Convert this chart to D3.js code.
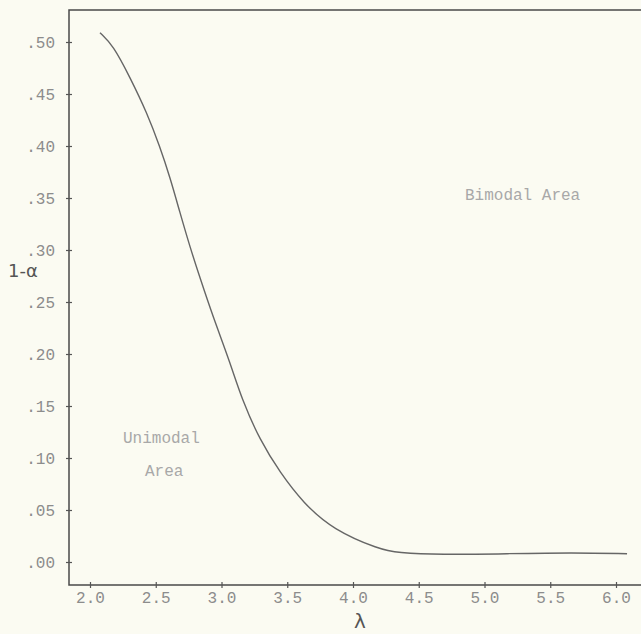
<!DOCTYPE html>
<html>
<head>
<meta charset="utf-8">
<script src="https://cdn.jsdelivr.net/npm/d3@7"></script>
<style>
  body { margin: 0; background: #fbfbf2; }
  svg { display: block; }
  .tick text { font-family: "Liberation Mono", "DejaVu Sans Mono", monospace; font-size: 16px; fill: #8c8c8c; }
  .tick line { stroke: #555; stroke-width: 1.2; }
  .note { font-family: "Liberation Mono", "DejaVu Sans Mono", monospace; font-size: 16px; fill: #a8a8a8; }
</style>
</head>
<body>
<script>
// curve: lambda vs 1-alpha
var lambda = [2.076, 2.175, 2.304, 2.433, 2.532, 2.608, 2.684, 2.760, 2.837, 2.935,
              3.065, 3.156, 3.293, 3.445, 3.620, 3.848, 4.205, 4.335, 4.662, 5.171,
              5.673, 6.084];
var oneMinusAlpha = [0.509, 0.497, 0.466, 0.432, 0.399, 0.370, 0.336, 0.303, 0.273, 0.236,
                     0.192, 0.156, 0.117, 0.086, 0.057, 0.031, 0.012, 0.009, 0.007, 0.008,
                     0.009, 0.008];
var xTicks = [2.0, 2.5, 3.0, 3.5, 4.0, 4.5, 5.0, 5.5, 6.0];
var yTicks = [0, 0.05, 0.10, 0.15, 0.20, 0.25, 0.30, 0.35, 0.40, 0.45, 0.50];

var width = 641, height = 634;

var svg = d3.select("body").append("svg")
    .attr("width", width)
    .attr("height", height);

var x = d3.scaleLinear().domain([2, 6]).range([90, 616]);
var y = d3.scaleLinear().domain([0, 0.5]).range([562, 42]);

var frameLeft = 69, frameTop = 10, frameBottom = 585;

// frame: left axis, bottom axis, top rule
svg.append("path")
    .attr("d", "M" + width + "," + frameTop + "H" + frameLeft + "V" + frameBottom + "H" + width)
    .attr("fill", "none")
    .attr("stroke", "#4a4a4a")
    .attr("stroke-width", 1.5);

// y axis
var yAxis = svg.append("g")
    .attr("transform", "translate(" + frameLeft + ",0)")
    .call(d3.axisLeft(y)
        .tickValues(yTicks)
        .tickSizeInner(3)
        .tickSizeOuter(0)
        .tickPadding(11)
        .tickFormat(function(d){ return d3.format(".2f")(d).replace(/^0/, ""); }));
yAxis.select(".domain").remove();
yAxis.selectAll(".tick line").attr("x1", -3).attr("x2", 3);

// x axis
var xAxis = svg.append("g")
    .attr("transform", "translate(0," + frameBottom + ")")
    .call(d3.axisBottom(x)
        .tickValues(xTicks)
        .tickSizeInner(3)
        .tickSizeOuter(0)
        .tickPadding(4)
        .tickFormat(d3.format(".1f")));
xAxis.select(".domain").remove();
xAxis.selectAll(".tick line").attr("y1", -3).attr("y2", 3);

// the curve
var pts = lambda.map(function(d, i){ return [d, oneMinusAlpha[i]]; });
var line = d3.line()
    .x(function(d){ return x(d[0]); })
    .y(function(d){ return y(d[1]); })
    .curve(d3.curveBasis);

svg.append("path")
    .datum(pts)
    .attr("d", line)
    .attr("fill", "none")
    .attr("stroke", "#666")
    .attr("stroke-width", 1.4);

// axis titles
svg.append("text")
    .attr("x", 8).attr("y", 277)
    .style("font-family", "DejaVu Sans, sans-serif")
    .style("font-size", "18px")
    .style("fill", "#555")
    .text("1-α");

svg.append("text")
    .attr("x", 360).attr("y", 628)
    .attr("text-anchor", "middle")
    .style("font-family", "DejaVu Sans, sans-serif")
    .style("font-size", "20px")
    .style("fill", "#555")
    .text("λ");

// region notes
svg.append("text").attr("class", "note")
    .attr("x", 465).attr("y", 200)
    .text("Bimodal Area");
svg.append("text").attr("class", "note")
    .attr("x", 123).attr("y", 443)
    .text("Unimodal");
svg.append("text").attr("class", "note")
    .attr("x", 145).attr("y", 476)
    .text("Area");
</script>
</body>
</html>
